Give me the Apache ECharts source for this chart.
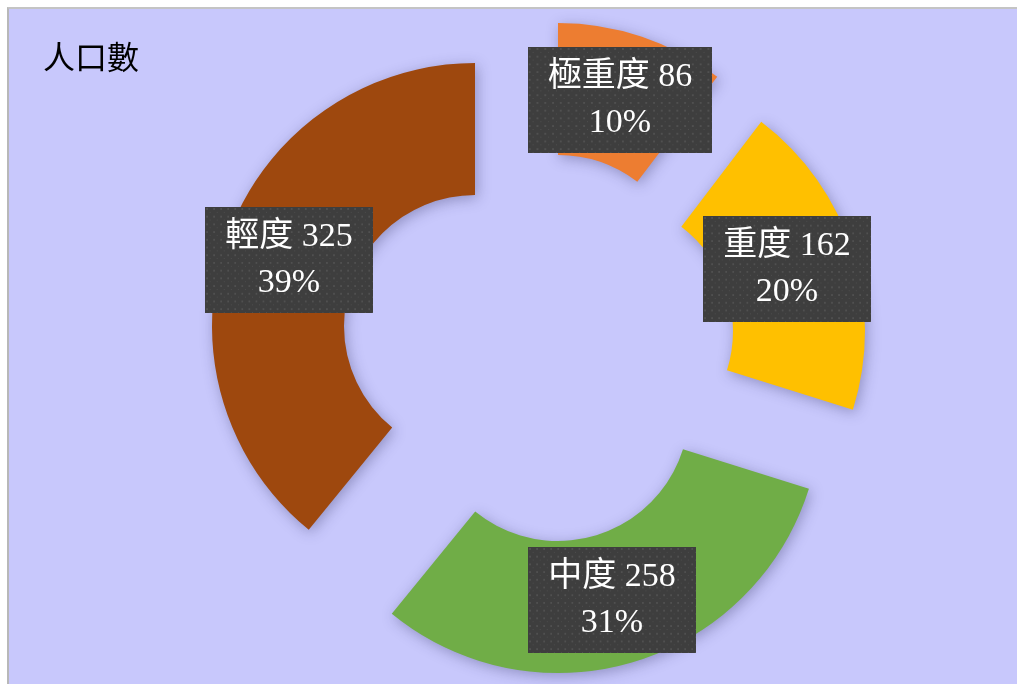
<!DOCTYPE html>
<html>
<head>
<meta charset="utf-8">
<script src="https://cdn.jsdelivr.net/npm/echarts@6/dist/echarts.min.js"></script>
<style>
  html, body { margin: 0; padding: 0; background: #ffffff; }
  #frame {
    position: absolute; left: 7px; top: 7px; width: 1010px; height: 677px;
    background: #c8c8fc; border-left: 2px solid #b8b8b8; border-top: 2px solid #c4c4c4;
    box-sizing: border-box;
  }
  #main { position: absolute; left: 0; top: 0; width: 1019px; height: 684px; }
</style>
</head>
<body>
<div id="frame"></div>
<div id="main"></div>
<script>
const categories = ['極重度', '重度', '中度', '輕度'];
const values = [86, 162, 258, 325];
const colors = ['#ED7D31', '#FFC000', '#70AD47', '#9E480E'];

// exploded doughnut: every slice gets its own centre
const centers = [[558, 286], [602, 331], [558, 410], [475, 326]];
const labelPos = [[620, 100], [787, 269], [612, 600], [289, 260]];

// dotted dark fill for the label boxes
function dotTexture() {
  const cv = document.createElement('canvas');
  cv.width = 190; cv.height = 110;
  const ctx = cv.getContext('2d');
  ctx.fillStyle = '#3e3e3e';
  ctx.fillRect(0, 0, cv.width, cv.height);
  ctx.fillStyle = '#505050';
  for (let y = 1; y < cv.height; y += 8) {
    for (let x = 1; x < cv.width; x += 8) {
      ctx.fillRect(x, y, 2, 2);
      ctx.fillRect(x + 4, y + 4, 1, 1);
    }
  }
  return cv;
}
const tex = dotTexture();

const chart = echarts.init(document.getElementById('main'));

const series = categories.map((c, i) => ({
  type: 'pie',
  center: centers[i],
  radius: [131, 263],
  startAngle: 90,
  clockwise: true,
  avoidLabelOverlap: false,
  percentPrecision: 0,
  silent: true,
  animation: false,
  labelLine: { show: false },
  label: {
    position: 'inside',
    formatter: '{b} {c}\n{d}%',
    color: '#ffffff',
    fontSize: 34,
    lineHeight: 46,
    fontFamily: '"Liberation Serif", "Noto Sans CJK TC", serif',
    backgroundColor: { image: tex },
    padding: [8, 20, 6, 20],
    align: 'center',
    shadowColor: 'rgba(0,0,0,0.45)',
    shadowBlur: 8,
    shadowOffsetX: 4,
    shadowOffsetY: 5
  },
  labelLayout: {
    x: labelPos[i][0],
    y: labelPos[i][1],
    align: 'center',
    verticalAlign: 'middle'
  },
  data: categories.map((name, j) => ({
    name: name,
    value: values[j],
    itemStyle: j === i ? {
      color: colors[j],
      shadowColor: 'rgba(40,40,90,0.35)',
      shadowBlur: 14,
      shadowOffsetX: 2,
      shadowOffsetY: 3
    } : { color: 'transparent' },
    label: { show: j === i }
  }))
}));

chart.setOption({
  backgroundColor: 'transparent',
  title: {
    text: '人口數',
    left: 38,
    top: 36,
    textStyle: {
      fontSize: 32,
      fontWeight: 'normal',
      color: '#000000',
      fontFamily: '"Noto Sans CJK TC", serif'
    }
  },
  series: series
});
</script>
</body>
</html>
